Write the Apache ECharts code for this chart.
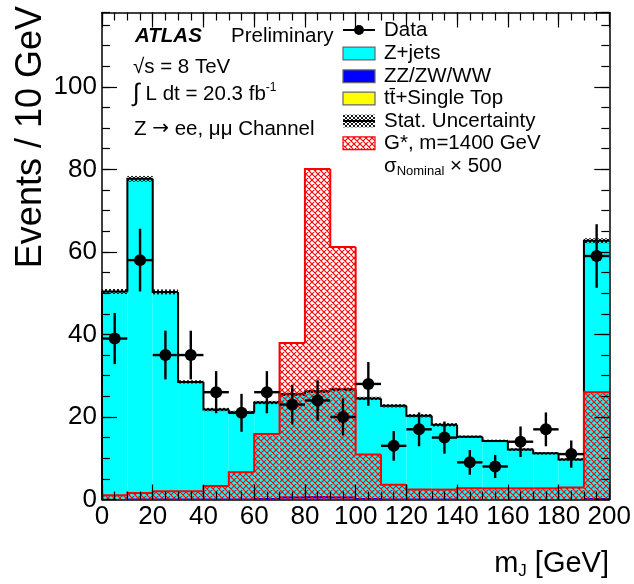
<!DOCTYPE html>
<html>
<head>
<meta charset="utf-8">
<script src="https://cdn.jsdelivr.net/npm/echarts@6/dist/echarts.min.js"></script>
<style>
  html, body { margin: 0; padding: 0; background: #ffffff; }
  #chart { width: 634px; height: 584px; }
</style>
</head>
<body>
<div id="chart"></div>
<script>
// Bin edges of the large-R jet mass histogram (GeV), 10 GeV bins
const binEdges = [0, 10, 20, 30, 40, 50, 60, 70, 80, 90, 100, 110, 120, 130, 140, 150, 160, 170, 180, 190, 200];

// Background expectations per bin (events / 10 GeV), stacked bottom to top
const ttbarSingleTop = [0.1, 0.1, 0.1, 0.1, 0.1, 0.1, 0.1, 0.2, 0.2, 0.2, 0.1, 0.1, 0.1, 0.1, 0.1, 0.1, 0.1, 0.1, 0.1, 0.1];
const diboson        = [0.1, 0.2, 0.2, 0.2, 0.2, 0.2, 0.3, 0.6, 0.7, 0.6, 0.3, 0.2, 0.2, 0.2, 0.1, 0.1, 0.1, 0.1, 0.1, 0.3];
const zJets          = [50.2, 77.4, 50.0, 28.2, 21.5, 20.8, 23.1, 24.7, 25.3, 25.9, 24.1, 22.4, 20.0, 17.8, 15.0, 14.0, 11.9, 11.0, 9.5, 62.3];
// Statistical uncertainty on the total background (half-width of the band)
const statUnc        = [0.6, 0.7, 0.6, 0.4, 0.4, 0.4, 0.4, 0.4, 0.4, 0.4, 0.4, 0.4, 0.4, 0.4, 0.3, 0.3, 0.3, 0.3, 0.3, 0.6];

// G* signal, m = 1400 GeV, scaled by 500
const signalGstar    = [1.0, 1.6, 2.0, 2.0, 3.3, 6.6, 15.9, 37.9, 80.1, 61.2, 10.9, 3.6, 2.4, 2.4, 2.7, 2.7, 2.7, 2.7, 2.9, 26.0];

// Observed data and Poisson errors
const dataCounts     = [39, 58, 35, 35, 26, 21, 26, 23, 24, 20, 28, 13, 17, 15, 9, 8, 14, 17, 11, 59];
const dataErrors     = [6.2, 7.6, 5.9, 5.9, 5.1, 4.6, 5.1, 4.8, 4.9, 4.5, 5.3, 3.6, 4.1, 3.9, 3.0, 2.8, 3.7, 4.1, 3.3, 7.7];

// Axis tick values
const xTicks = [0, 20, 40, 60, 80, 100, 120, 140, 160, 180, 200];
const yTicks = [0, 20, 40, 60, 80, 100];

const FONT = '"Liberation Sans", Arial, Helvetica, sans-serif';
const TXT = 20.5;

// Hatch fill textures (ROOT-like cross hatching)
function makeHatch(color, size, lineWidth) {
  const c = document.createElement('canvas');
  c.width = size; c.height = size;
  const g = c.getContext('2d');
  g.strokeStyle = color;
  g.lineWidth = lineWidth;
  g.beginPath();
  for (let k = -1; k <= 1; k++) {
    g.moveTo(k * size, size); g.lineTo(k * size + size, 0);
    g.moveTo(k * size, 0);    g.lineTo(k * size + size, size);
  }
  g.stroke();
  return { image: c, repeat: 'repeat' };
}
const redHatch = makeHatch('#ff0000', 6, 1.1);
const blackHatch = makeHatch('#000000', 4, 0.9);

// Build [lo, hi, base, top] rows for a stacked component
const nBins = binEdges.length - 1;
const stackBase = new Array(nBins).fill(0);
function stackRows(values) {
  const rows = [];
  for (let i = 0; i < nBins; i++) {
    rows.push([binEdges[i], binEdges[i + 1], stackBase[i], stackBase[i] + values[i]]);
    stackBase[i] += values[i];
  }
  return rows;
}
const ttRows = stackRows(ttbarSingleTop);
const vvRows = stackRows(diboson);
const zjRows = stackRows(zJets);
const totalMC = stackBase.slice();

// Step outline rows [lo, hi, previousTop, top]
function stepRows(values) {
  return values.map((v, i) => [binEdges[i], binEdges[i + 1], i === 0 ? 0 : values[i - 1], v]);
}
const statRows = totalMC.map((v, i) => [binEdges[i], binEdges[i + 1], v - statUnc[i], v + statUnc[i]]);
const sigRows = signalGstar.map((v, i) => [binEdges[i], binEdges[i + 1], 0, v]);
const dataRows = dataCounts.map((v, i) => [(binEdges[i] + binEdges[i + 1]) / 2, v, dataErrors[i], (binEdges[i + 1] - binEdges[i]) / 2]);

function rectRenderer(fill, stroke, lw) {
  return function (params, api) {
    const p0 = api.coord([api.value(0), api.value(3)]);
    const p1 = api.coord([api.value(1), api.value(2)]);
    return {
      type: 'rect',
      shape: { x: p0[0], y: p0[1], width: p1[0] - p0[0], height: p1[1] - p0[1] },
      style: { fill: fill, stroke: stroke || null, lineWidth: lw || 0 }
    };
  };
}
function stepRenderer(color, lw) {
  return function (params, api) {
    const lo = api.value(0), hi = api.value(1), prev = api.value(2), top = api.value(3);
    return {
      type: 'polyline',
      shape: { points: [api.coord([lo, prev]), api.coord([lo, top]), api.coord([hi, top])] },
      style: { stroke: color, lineWidth: lw, fill: null }
    };
  };
}
function dataRenderer(params, api) {
  const x = api.value(0), y = api.value(1), e = api.value(2), hw = api.value(3);
  const c = api.coord([x, y]);
  const up = api.coord([x, y + e]), dn = api.coord([x, y - e]);
  const l = api.coord([x - hw, y]), r = api.coord([x + hw, y]);
  return {
    type: 'group',
    children: [
      { type: 'line', shape: { x1: up[0], y1: up[1], x2: dn[0], y2: dn[1] }, style: { stroke: '#000', lineWidth: 2.4 } },
      { type: 'line', shape: { x1: l[0], y1: l[1], x2: r[0], y2: r[1] }, style: { stroke: '#000', lineWidth: 2.4 } },
      { type: 'circle', shape: { cx: c[0], cy: c[1], r: 6 }, style: { fill: '#000' } }
    ]
  };
}

function customSeries(name, data, renderItem, z) {
  return {
    type: 'custom', name: name, data: data, renderItem: renderItem, z: z,
    silent: true, animation: false,
    encode: { x: [0, 1], y: [2, 3] }
  };
}

const axisBase = { min: 0, splitLine: { show: false }, z: 20 };
function xAxisDef(position, interval, tickLen, withLabels, withLine) {
  return Object.assign({}, axisBase, {
    type: 'value', position: position, max: 200, interval: interval,
    axisLine: { show: withLine, onZero: false, lineStyle: { color: '#000', width: 1.5 } },
    axisTick: { show: true, inside: true, length: tickLen, lineStyle: { color: '#000', width: 1.2 } },
    axisLabel: withLabels ? {
      show: true, fontSize: 26, color: '#000', fontFamily: FONT, margin: 4,
      formatter: v => (xTicks.indexOf(v) >= 0 ? String(v) : '')
    } : { show: false }
  });
}
function yAxisDef(position, interval, tickLen, withLabels, withLine) {
  return Object.assign({}, axisBase, {
    type: 'value', position: position, max: 118, interval: interval,
    axisLine: { show: withLine, onZero: false, lineStyle: { color: '#000', width: 1.5 } },
    axisTick: { show: true, inside: true, length: tickLen, lineStyle: { color: '#000', width: 1.2 } },
    axisLabel: withLabels ? {
      show: true, fontSize: 26, color: '#000', fontFamily: FONT, margin: 5,
      showMaxLabel: false,
      formatter: v => (yTicks.indexOf(v) >= 0 ? String(v) : '')
    } : { show: false }
  });
}

const textStyle = (text, x, y, extra) => ({
  type: 'text', x: x, y: y, z: 50,
  style: Object.assign({ text: text, fill: '#000', fontFamily: FONT, fontSize: TXT, verticalAlign: 'middle', align: 'left' }, extra || {})
});

const legendX = 343, legendW = 32, legendH = 12.7, legendTextX = 384;
const legendY = [30, 53.5, 76.3, 98.5, 121, 143.3, 166];
function legendBox(y, fill, stroke) {
  return { type: 'rect', z: 50, shape: { x: legendX, y: y - legendH / 2, width: legendW, height: legendH },
    style: { fill: fill, stroke: stroke, lineWidth: 1.2 } };
}

const chart = echarts.init(document.getElementById('chart'), null, { renderer: 'canvas' });
chart.setOption({
  animation: false,
  backgroundColor: '#ffffff',
  grid: { left: 102, top: 12.5, width: 507.5, height: 487, containLabel: false },
  xAxis: [
    xAxisDef('bottom', 20, 15, true, true),
    xAxisDef('bottom', 5, 8, false, false),
    xAxisDef('top', 20, 15, false, true),
    xAxisDef('top', 5, 8, false, false)
  ],
  yAxis: [
    yAxisDef('left', 20, 15, true, true),
    yAxisDef('left', 5, 8, false, false),
    yAxisDef('right', 20, 15, false, true),
    yAxisDef('right', 5, 8, false, false)
  ],
  series: [
    customSeries('tt+Single Top', ttRows, rectRenderer('#ffff00'), 2),
    customSeries('ZZ/ZW/WW', vvRows, rectRenderer('#0000ff'), 2),
    customSeries('Z+jets', zjRows, rectRenderer('#00ffff'), 2),
    customSeries('Stat. Uncertainty', statRows, rectRenderer(blackHatch), 3),
    customSeries('Total outline', stepRows(totalMC), stepRenderer('#000', 2), 4),
    customSeries('G*', sigRows, rectRenderer(redHatch), 5),
    customSeries('G* outline', stepRows(signalGstar), stepRenderer('#ff0000', 2), 6),
    {
      type: 'custom', name: 'Data', data: dataRows, renderItem: dataRenderer, z: 8,
      silent: true, animation: false, encode: { x: 0, y: 1 }
    }
  ],
  graphic: [
    // axis titles
    { type: 'text', x: 31, y: 6, rotation: Math.PI / 2, z: 50,
      style: { text: 'Events / 10 GeV', fill: '#000', fontFamily: FONT, fontSize: 36, align: 'right', verticalAlign: 'middle' } },
    { type: 'text', x: 609, y: 564, z: 50,
      style: { text: 'm{sub|J} [GeV]', fill: '#000', fontFamily: FONT, fontSize: 29, align: 'right', verticalAlign: 'middle',
        rich: { sub: { fontFamily: FONT, fontSize: 17, verticalAlign: 'bottom', padding: [14, 0, 0, 0], fill: '#000' } } } },
    // labels
    textStyle('ATLAS', 135, 36, { fontWeight: 'bold', fontStyle: 'italic' }),
    textStyle('Preliminary', 231, 36),
    textStyle('√s = 8 TeV', 133, 67),
    textStyle('{int|∫} L dt = 20.3 fb{sup|-1}', 133, 94, {
      rich: {
        int: { fontFamily: FONT, fontSize: 25, fill: '#000' },
        sup: { fontFamily: FONT, fontSize: 12, verticalAlign: 'top', padding: [0, 0, 12, 0], fill: '#000' }
      }
    }),
    textStyle('Z {arr|→} ee, μμ Channel', 134, 129, {
      rich: { arr: { fontFamily: '"DejaVu Sans", sans-serif', fontSize: 20, fill: '#000' } }
    }),
    // legend
    { type: 'line', z: 50, shape: { x1: legendX, y1: legendY[0], x2: legendX + legendW, y2: legendY[0] }, style: { stroke: '#000', lineWidth: 2 } },
    { type: 'circle', z: 51, shape: { cx: legendX + legendW / 2, cy: legendY[0], r: 5 }, style: { fill: '#000' } },
    textStyle('Data', legendTextX, legendY[0]),
    legendBox(legendY[1], '#00ffff', '#666'),
    textStyle('Z+jets', legendTextX, legendY[1]),
    legendBox(legendY[2], '#0000ff', '#666'),
    textStyle('ZZ/ZW/WW', legendTextX, legendY[2]),
    legendBox(legendY[3], '#ffff00', '#666'),
    textStyle('tt\u0304+Single Top', legendTextX, legendY[3]),
    legendBox(legendY[4], blackHatch, null),
    { type: 'line', z: 51, shape: { x1: legendX, y1: legendY[4], x2: legendX + legendW, y2: legendY[4] }, style: { stroke: '#000', lineWidth: 2 } },
    textStyle('Stat. Uncertainty', legendTextX, legendY[4]),
    legendBox(legendY[5], redHatch, '#ff0000'),
    textStyle('G*, m=1400 GeV', legendTextX, legendY[5]),
    textStyle('σ{sub|Nominal} × 500', legendTextX, legendY[6], {
      rich: { sub: { fontFamily: FONT, fontSize: 13, verticalAlign: 'bottom', padding: [10, 0, 0, 0], fill: '#000' } }
    })
  ]
});
</script>
</body>
</html>
